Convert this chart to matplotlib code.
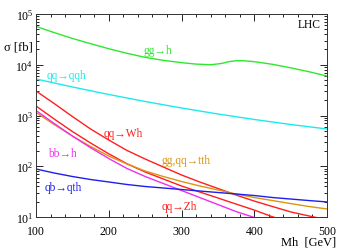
import matplotlib
matplotlib.use("Agg")
import matplotlib.pyplot as plt
from matplotlib.ticker import MultipleLocator, LogLocator, LogFormatterMathtext, NullFormatter
import numpy as np

plt.rcParams['font.family'] = ['Liberation Serif', 'DejaVu Serif']
plt.rcParams['mathtext.fontset'] = 'custom'
plt.rcParams['mathtext.rm'] = 'Liberation Serif'

# =====
# Cross sections [fb]
# =====
mh_gg = [100, 125, 150, 175, 200, 225, 250, 275, 300, 320, 340, 355, 365, 375, 385, 400, 425, 450, 475, 500]
sig_gg = [5.7e4, 4.3e4, 3.3e4, 2.6e4, 2.07e4, 1.68e4, 1.40e4, 1.22e4, 1.10e4, 1.03e4, 1.0e4,
          1.06e4, 1.15e4, 1.20e4, 1.20e4, 1.15e4, 1.02e4, 8700, 7300, 6000]

mh_qqh = [100, 150, 200, 250, 300, 350, 400, 450, 500]
sig_qqh = [5240, 3650, 2595, 1888, 1406, 1071, 835, 665, 542]

mh_25 = [100, 125, 150, 175, 200, 225, 250, 275, 300, 325, 350, 375, 400, 425, 450, 475, 500]
sig_wh = [3040, 1720, 955, 542, 329, 205, 139, 96.6, 67.3, 49.0, 36.5, 27.1, 20.6, 16.1, 12.6, 10.5, 8.8]
sig_zh = [1540, 853, 484, 287, 176, 112, 77.1, 56.1, 40.8, 31.1, 23.7, 18.0, 13.7, 10.1, 7.8, 6.1, 4.8]
sig_bbh = [1256, 695, 394, 232, 142, 90.4, 62.9, 45.7, 33.3, 24.2, 17.6, 12.8, 9.8, 7.5, 5.8, 4.5, 3.5]
sig_tth = [1145, 665, 394, 245, 159, 111, 80.5, 62.8, 50.1, 40.9, 34.1, 28.4, 24.2, 21.1, 18.4, 16.1, 14.4]
sig_qth = [88.3, 73.6, 62.8, 54.8, 49.0, 43.7, 39.9, 37.3, 34.8, 32.5, 30.4, 28.4, 26.5, 24.2, 22.6, 21.1, 19.8]

green = '#2ee82e'
cyan = '#1eeaea'
red = '#ff1e1e'
orange = '#dd9411'
magenta = '#ee2eee'
blue = '#1e1eee'

fig = plt.figure(figsize=(3.38, 2.53), dpi=100)
ax = fig.add_axes([36/338, 1 - 218/253, 291/338, 203/253])

lw = 1.0
ax.plot(mh_gg, sig_gg, color=green, lw=lw)
ax.plot(mh_qqh, sig_qqh, color=cyan, lw=lw)
ax.plot(mh_25, sig_wh, color=red, lw=lw)
ax.plot(mh_25, sig_zh, color=red, lw=lw)
ax.plot(mh_25, sig_tth, color=orange, lw=lw)
ax.plot(mh_25, sig_bbh, color=magenta, lw=lw)
ax.plot(mh_25, sig_qth, color=blue, lw=lw)

ax.set_yscale('log')
ax.set_xlim(100, 500)
ax.set_ylim(10, 1e5)

ax.xaxis.set_major_locator(MultipleLocator(100))
ax.xaxis.set_minor_locator(MultipleLocator(20))
ax.yaxis.set_major_locator(LogLocator(base=10, numticks=10))
ax.yaxis.set_minor_locator(LogLocator(base=10, subs=np.arange(2, 10), numticks=20))
ax.yaxis.set_major_formatter(LogFormatterMathtext())
ax.yaxis.set_minor_formatter(NullFormatter())
ax.tick_params(which='both', direction='in', top=True, right=True, labelsize=8.5, width=0.6)
ax.tick_params(which='major', length=5)
ax.tick_params(which='minor', length=2.5)
ax.tick_params(axis='x', pad=6)
ax.tick_params(axis='y', pad=2)
for s in ax.spines.values():
    s.set_linewidth(0.7)
    s.set_color('#333333')
# 10 at the bottom is not labelled
ax.yaxis.get_major_ticks()[0].label1.set_visible(False)


def px(x, y):
    return (x - 36) / 291, (218 - y) / 203


fs = 8.3
kw = dict(transform=ax.transAxes, fontsize=fs, va='center', ha='left')
ax.text(*px(143, 51), 'gg\u2192h', color=green, **kw)
ax.text(*px(47, 76), 'qq\u2192qqh', color=cyan, **kw)
ax.text(*px(104, 134), 'qq\u2192Wh', color=red, **kw)
ax.text(*px(48, 154), 'bb\u2192h', color=magenta, **kw)
ax.text(*px(162, 161), 'gg,qq\u2192tth', color=orange, **kw)
ax.text(*px(45, 188), 'qb\u2192qth', color=blue, **kw)
ax.text(*px(162, 207), 'qq\u2192Zh', color=red, **kw)
ax.text(*px(298, 25), 'LHC', color='black', **kw)

fig.text(4/338, 1 - 47/253, '\u03c3 [fb]', fontsize=9, va='center', ha='left')
fig.text(336/338, 1 - 243/253, 'Mh  [GeV]', fontsize=9, va='center', ha='right')

fig.savefig('out.png', dpi=100)
